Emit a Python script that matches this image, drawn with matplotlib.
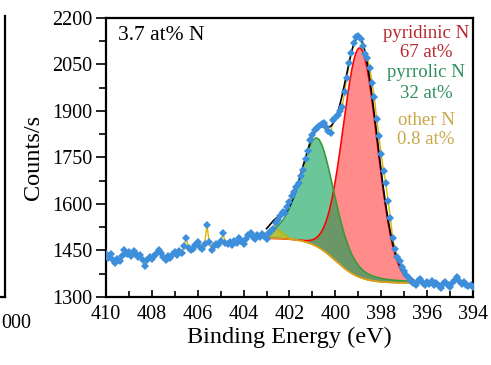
import numpy as np
import matplotlib
matplotlib.use("Agg")
import matplotlib.pyplot as plt
from matplotlib.lines import Line2D
from matplotlib.ticker import MultipleLocator

plt.rcParams['font.family'] = ['Liberation Serif', 'DejaVu Serif']

# N 1s spectrum, 0.1 eV step from 410 eV down to 394 eV
energy = np.round(np.arange(410.0, 393.95, -0.1), 1)
counts = [
    1438, 1425, 1440, 1418, 1410, 1422, 1415, 1432, 1452, 1438,
    1445, 1432, 1447, 1440, 1428, 1436, 1418, 1400, 1420, 1428,
    1422, 1433, 1440, 1452, 1443, 1430, 1420, 1432, 1425, 1438,
    1445, 1436, 1448, 1442, 1465, 1490, 1458, 1450, 1455, 1468,
    1477, 1462, 1455, 1470, 1532, 1478, 1450, 1465, 1472, 1468,
    1480, 1506, 1475, 1470, 1478, 1468, 1482, 1475, 1490, 1480,
    1472, 1488, 1500, 1506, 1495, 1488, 1500, 1492, 1502, 1498,
    1488, 1505, 1512, 1520, 1540, 1548, 1562, 1574, 1570, 1590,
    1605, 1625, 1640, 1655, 1668, 1690, 1710, 1745, 1770, 1805,
    1822, 1838, 1845, 1850, 1858, 1861, 1848, 1835, 1830, 1871,
    1878, 1887, 1900, 1913, 1960, 2006, 2055, 2087, 2120, 2139,
    2142, 2132, 2110, 2085, 2070, 2040, 1990, 1945, 1875, 1820,
    1760, 1705, 1668, 1610, 1555, 1490, 1455, 1430, 1415, 1397,
    1385, 1372, 1360, 1352, 1345, 1340, 1352, 1358, 1346, 1338,
    1350, 1343, 1352, 1340, 1346, 1336, 1330, 1342, 1350, 1338,
    1332, 1345, 1356, 1365, 1352, 1342, 1348, 1338, 1335, 1340,
    1332,
]

# fitted components: pyridinic, pyrrolic, other N
peak_names = ["pyridinic N", "pyrrolic N", "other N"]
peak_centers = [398.92, 400.78, 402.6]
peak_heights = [740, 350, 30]
peak_fwhm = [1.75, 1.75, 0.7]
peak_eta = [0.0, 0.35, 0.0]
peak_percent = ["67 at%", "32 at%", "0.8 at%"]

fill_colors = ["#ff3838", "#00a050", "#e0c000"]
edge_colors = ["#ff0000", "#3a9a3a", "#c8b000"]
text_colors = ["#b8282e", "#2e9060", "#c8a848"]

y_ticks = [1300, 1450, 1600, 1750, 1900, 2050, 2200]

# fit window and step background
fit_hi, fit_lo = 403.0, 396.6
bg_high, bg_low = 1490, 1345
bg_mid, bg_width = 400.0, 0.55


def pseudo_voigt(e, center, height, fwhm, eta):
    d = ((e - center) / fwhm) ** 2
    return height * ((1 - eta) * np.exp(-4 * np.log(2) * d) + eta / (1 + 4 * d))


e_fit = np.linspace(fit_hi, fit_lo, 400)
bg = bg_low + (bg_high - bg_low) / (1 + np.exp(-(e_fit - bg_mid) / bg_width))
comps = [pseudo_voigt(e_fit, c, h, w, n)
         for c, h, w, n in zip(peak_centers, peak_heights, peak_fwhm, peak_eta)]
envelope = bg + sum(comps)

fig = plt.figure(figsize=(4.91, 3.65), dpi=100)
ax = fig.add_axes([0.2159, 0.1863, 0.7474, 0.7644])

alphas = [0.58, 0.58, 0.6]
for comp, fc, a in zip(comps, fill_colors, alphas):
    ax.fill_between(e_fit, bg, bg + comp, color=fc, alpha=a, lw=0, zorder=2)
for comp, ec in zip(comps, edge_colors):
    ax.plot(e_fit, bg + comp, color=ec, lw=1.2, zorder=3)
ax.plot(e_fit, bg, color="#e09a20", lw=1.0, zorder=3)

ax.plot(energy, counts, color="#d8b800", lw=1.0, zorder=4)
ax.plot(energy, counts, ls="none", marker="D", ms=3.8, mew=0,
        color="#3d8fdc", zorder=5)
ax.plot(e_fit, envelope, color="black", lw=1.2, zorder=4)

ax.set_xlim(410, 394)
ax.set_ylim(1300, 2200)
ax.xaxis.set_major_locator(MultipleLocator(2))
ax.xaxis.set_minor_locator(MultipleLocator(1))
ax.set_yticks(y_ticks)
ax.set_yticks(np.arange(1300, 2201, 75), minor=True)
ax.tick_params(axis="x", which="both", direction="in", top=False,
               labelsize=14.5, pad=6)
ax.tick_params(axis="x", which="major", length=5, width=1.2)
ax.tick_params(axis="x", which="minor", length=4, width=1.2)
ax.tick_params(axis="y", which="both", direction="out", right=False,
               labelsize=14.5, pad=3)
ax.tick_params(axis="y", which="major", length=7, width=1.2)
ax.tick_params(axis="y", which="minor", length=5, width=1.2)
for s in ax.spines.values():
    s.set_linewidth(1.6)

ax.set_xlabel("Binding Energy (eV)", fontsize=17.5, labelpad=2)
ax.set_ylabel("Counts/s", fontsize=17.5, labelpad=6)

ax.text(0.033, 0.939, "3.7 at% N", transform=ax.transAxes,
        fontsize=15.5, ha="left", va="center")

label_y = [(0.946, 0.875), (0.806, 0.731), (0.634, 0.563)]
for name, pct, col, (y1, y2) in zip(peak_names, peak_percent, text_colors, label_y):
    ax.text(0.872, y1, name, transform=ax.transAxes, color=col,
            fontsize=13.5, ha="center", va="center")
    ax.text(0.872, y2, pct, transform=ax.transAxes, color=col,
            fontsize=13.5, ha="center", va="center")

# edge of the neighbouring panel
fig.add_artist(Line2D([5 / 491, 5 / 491], [0.186, 0.955],
                      color="black", lw=1.6))
fig.add_artist(Line2D([0, 5 / 491], [0.186, 0.186], color="black", lw=1.6))
fig.text(1 / 491, 1 - 323 / 365, "000", ha="left", va="center",
         fontsize=14.5)

fig.savefig("out.png", dpi=100)
